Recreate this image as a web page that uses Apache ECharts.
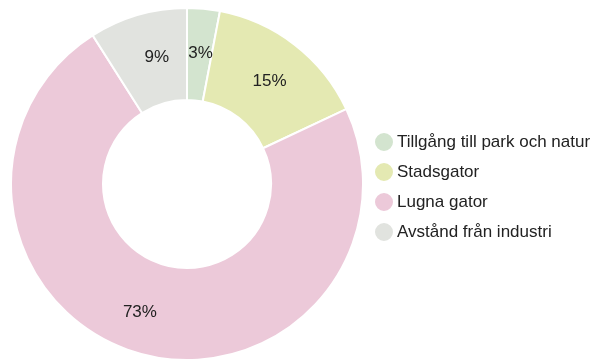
<!DOCTYPE html>
<html>
<head>
<meta charset="utf-8">
<script src="https://cdn.jsdelivr.net/npm/echarts@6/dist/echarts.min.js"></script>
<style>
  html, body { margin: 0; padding: 0; background: #ffffff; }
  #chart { width: 603px; height: 362px; }
</style>
</head>
<body>
<div id="chart"></div>
<script>
// Share of responses per category (percent)
const categories = ['Tillgång till park och natur', 'Stadsgator', 'Lugna gator', 'Avstånd från industri'];
const values = [3, 15, 73, 9];
const colors = ['#d3e4cf', '#e4e9b2', '#ecc9d9', '#e1e3df'];

// Small nudges for the in-slice percentage labels
const labelOffsets = [[1, 2], [1, 2], [-10, 1], [7, 1]];

const chart = echarts.init(document.getElementById('chart'), null, { renderer: 'canvas' });

chart.setOption({
  animation: false,
  color: colors,
  textStyle: { fontFamily: 'Liberation Sans, Arial, sans-serif' },
  legend: {
    orient: 'vertical',
    left: 368,
    top: 126,
    icon: 'circle',
    itemWidth: 20,
    itemHeight: 20,
    itemGap: 8,
    textStyle: { fontSize: 17, color: '#222222', padding: [0, 0, 0, -2] },
    data: categories
  },
  series: [{
    type: 'pie',
    center: [187, 184],
    radius: [84, 176],
    startAngle: 90,
    clockwise: true,
    avoidLabelOverlap: false,
    itemStyle: { borderColor: '#ffffff', borderWidth: 2 },
    label: {
      show: true,
      position: 'inside',
      formatter: '{c}%',
      fontSize: 17,
      color: '#222222'
    },
    labelLine: { show: false },
    emphasis: { disabled: true },
    data: categories.map((name, i) => ({
      name,
      value: values[i],
      label: { offset: labelOffsets[i] }
    }))
  }]
});
</script>
</body>
</html>
